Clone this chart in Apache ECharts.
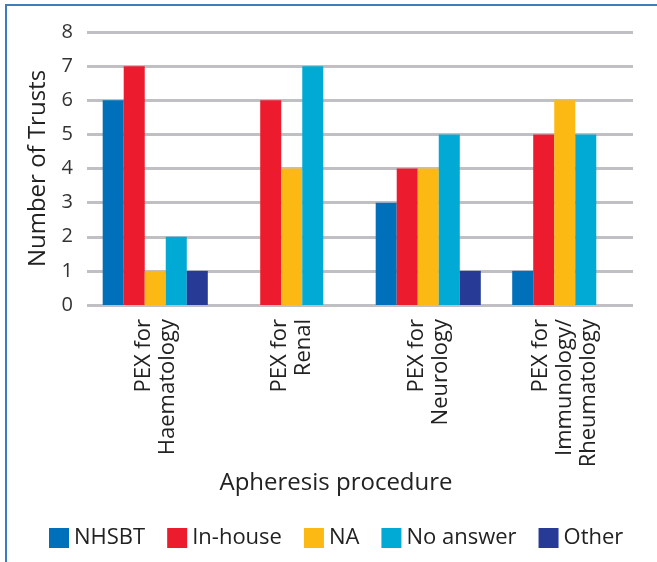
<!DOCTYPE html>
<html>
<head>
<meta charset="utf-8">
<script src="https://cdn.jsdelivr.net/npm/echarts@6/dist/echarts.min.js"></script>
<style>html,body{margin:0;padding:0;background:#fff}#c{width:657px;height:562px}</style>
</head>
<body>
<div id="c"></div>
<script>
var categories = ['PEX for\nHaematology', 'PEX for\nRenal', 'PEX for\nNeurology', 'PEX for\nImmunology/\nRheumatology'];
var nhsbt = [6, 0, 3, 1];
var inhouse = [7, 6, 4, 5];
var na = [1, 4, 4, 6];
var noAnswer = [2, 7, 5, 5];
var other = [1, 0, 1, 0];
var yTicks = [0, 1, 2, 3, 4, 5, 6, 7, 8];

var font = 'Open Sans';
var chart = echarts.init(document.getElementById('c'));
function s(name, data, color) {
  return { name: name, type: 'bar', data: data, barGap: 0, barCategoryGap: '23%', itemStyle: { color: color } };
}
chart.setOption({
  animation: false,
  textStyle: { fontFamily: font },
  grid: { left: 87, right: 24, top: 32, bottom: 257, containLabel: false },
  graphic: [{
    type: 'polyline', shape: { points: [[6, 562], [6, 5], [657, 5]] },
    style: { stroke: '#3f7bbf', lineWidth: 2, fill: null }
  }],
  legend: {
    bottom: 8, left: 44, itemWidth: 20, itemHeight: 20, itemGap: 22,
    icon: 'rect',
    textStyle: { fontFamily: font, fontSize: 22, color: '#222' },
    data: ['NHSBT', 'In-house', 'NA', 'No answer', 'Other']
  },
  xAxis: {
    type: 'category', data: categories,
    axisLine: { show: false }, axisTick: { show: false },
    axisLabel: { rotate: 90, margin: 14, fontSize: 22, lineHeight: 24, color: '#222', fontFamily: font, interval: 0 },
    name: 'Apheresis procedure', nameLocation: 'middle', nameGap: 166,
    nameTextStyle: { fontSize: 24, color: '#222', fontFamily: font, padding: [0, 48, 0, 0] }
  },
  yAxis: {
    type: 'value', min: 0, max: 8, interval: 1,
    axisLine: { show: false }, axisTick: { show: false },
    axisLabel: { margin: 14, fontSize: 20, color: '#333', fontFamily: font,
      formatter: function (v) { return yTicks.indexOf(v) >= 0 ? String(v) : ''; } },
    splitLine: { lineStyle: { color: '#c0c0c4', width: 3 } },
    name: 'Number of Trusts', nameLocation: 'middle', nameGap: 37, nameRotate: 90,
    nameTextStyle: { fontSize: 24, color: '#222', fontFamily: font }
  },
  series: [
    s('NHSBT', nhsbt, '#0070ba'),
    s('In-house', inhouse, '#ed1b2e'),
    s('NA', na, '#fdb913'),
    s('No answer', noAnswer, '#00aad4'),
    s('Other', other, '#263a96')
  ]
});
</script>
</body>
</html>
